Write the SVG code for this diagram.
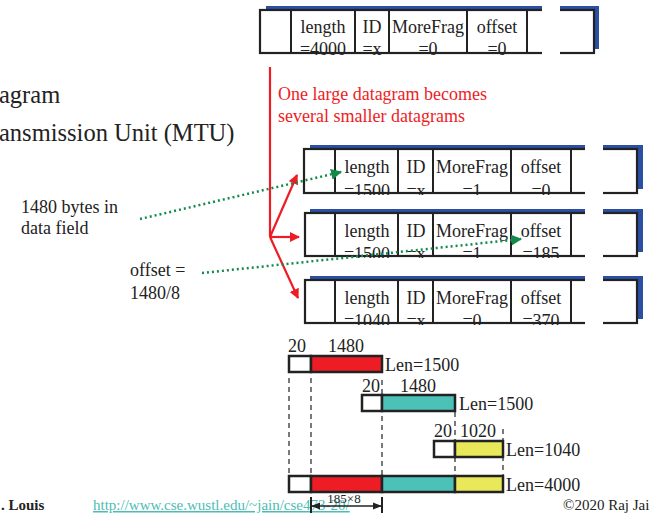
<svg xmlns="http://www.w3.org/2000/svg" width="649" height="515" viewBox="0 0 649 515">
  <style>
    text { font-family: "Liberation Serif", "Times New Roman", serif; fill: #222; }
    .f18 { font-size: 18px; }
    .hdr text { font-size: 18px; text-anchor: middle; }
    .shadow { fill: #2b4fa3; }
    .box { fill: #fff; stroke: #222; stroke-width: 2.2; }
    .div { stroke: #222; stroke-width: 2; }
    .gap { fill: #fff; }
    .red { stroke: #ee1c24; stroke-width: 2.2; fill: none; }
    .green { stroke: #138a4c; stroke-width: 2.5; stroke-dasharray: 2 3; fill: none; }
    .seg { stroke: #222; stroke-width: 2.5; }
    .dash { stroke: #222; stroke-width: 1.2; stroke-dasharray: 5 4; fill: none; }
    .redtxt { fill: #ee1c24; font-size: 18px; }
  </style>
  <defs>
    <marker id="redHead" viewBox="0 0 10 10" refX="9" refY="5" markerWidth="10" markerHeight="10" markerUnits="userSpaceOnUse" orient="auto">
      <path d="M0,0 L10,5 L0,10 z" fill="#ee1c24"/>
    </marker>
    <marker id="greenHead" viewBox="0 0 10 10" refX="9" refY="5" markerWidth="11" markerHeight="11" markerUnits="userSpaceOnUse" orient="auto">
      <path d="M0,0 L10,5 L0,10 z" fill="#138a4c"/>
    </marker>
    <marker id="dimHead" viewBox="0 0 10 10" refX="9" refY="5" markerWidth="9" markerHeight="9" markerUnits="userSpaceOnUse" orient="auto-start-reverse">
      <path d="M0,1 L10,5 L0,9 z" fill="#222"/>
    </marker>
    <clipPath id="clipTop"><rect x="255" y="0" width="350" height="55"/></clipPath>
    <clipPath id="clipF1"><rect x="300" y="140" width="345" height="55"/></clipPath>
    <clipPath id="clipF2"><rect x="300" y="205" width="345" height="53"/></clipPath>
    <clipPath id="clipF3"><rect x="300" y="270" width="345" height="55"/></clipPath>
  </defs>

  <!-- side titles -->
  <text x="-1" y="103" style="font-size:24.5px">agram</text>
  <text x="-1" y="141" style="font-size:24.5px">ansmission Unit (MTU)</text>

  <!-- original datagram header -->
  <g id="orig">
    <rect class="shadow" x="266" y="6" width="333" height="43"/>
    <rect class="box" x="260" y="10" width="334" height="43"/>
    <line class="div" x1="291" y1="10" x2="291" y2="53"/>
    <line class="div" x1="355" y1="10" x2="355" y2="53"/>
    <line class="div" x1="389" y1="10" x2="389" y2="53"/>
    <line class="div" x1="467" y1="10" x2="467" y2="53"/>
    <line class="div" x1="527" y1="10" x2="527" y2="53"/>
    <g class="hdr" clip-path="url(#clipTop)">
      <text x="323" y="33">length</text><text x="323" y="55">=4000</text>
      <text x="372" y="33">ID</text><text x="372" y="55">=x</text>
      <text x="428" y="33">MoreFrag</text><text x="428" y="55">=0</text>
      <text x="497" y="33">offset</text><text x="497" y="55">=0</text>
    </g>
    <rect class="gap" x="542" y="4" width="18" height="52"/>
  </g>

  <text class="redtxt" x="278" y="100">One large datagram becomes</text>
  <text class="redtxt" x="278" y="122">several smaller datagrams</text>

  <!-- fragment 1 -->
  <g id="frag1">
    <rect class="shadow" x="310" y="145" width="333" height="44"/>
    <rect class="box" x="304" y="149" width="333" height="44"/>
    <line class="div" x1="335" y1="149" x2="335" y2="193"/>
    <line class="div" x1="398" y1="149" x2="398" y2="193"/>
    <line class="div" x1="433" y1="149" x2="433" y2="193"/>
    <line class="div" x1="511" y1="149" x2="511" y2="193"/>
    <line class="div" x1="571" y1="149" x2="571" y2="193"/>
    <g class="hdr" clip-path="url(#clipF1)">
      <text x="367" y="173">length</text><text x="367" y="197">=1500</text>
      <text x="416" y="173">ID</text><text x="416" y="197">=x</text>
      <text x="472" y="173">MoreFrag</text><text x="472" y="197">=1</text>
      <text x="541" y="173">offset</text><text x="541" y="197">=0</text>
    </g>
    <rect class="gap" x="585" y="142" width="18" height="54"/>
  </g>

  <!-- fragment 2 -->
  <g id="frag2">
    <rect class="shadow" x="310" y="209" width="333" height="43"/>
    <rect class="box" x="305" y="213" width="332" height="43"/>
    <line class="div" x1="335" y1="213" x2="335" y2="256"/>
    <line class="div" x1="398" y1="213" x2="398" y2="256"/>
    <line class="div" x1="433" y1="213" x2="433" y2="256"/>
    <line class="div" x1="511" y1="213" x2="511" y2="256"/>
    <line class="div" x1="571" y1="213" x2="571" y2="256"/>
    <g class="hdr" clip-path="url(#clipF2)">
      <text x="367" y="237">length</text><text x="367" y="260">=1500</text>
      <text x="416" y="237">ID</text><text x="416" y="260">=x</text>
      <text x="472" y="237">MoreFrag</text><text x="472" y="260">=1</text>
      <text x="541" y="237">offset</text><text x="541" y="260">=185</text>
    </g>
    <rect class="gap" x="585" y="206" width="18" height="53"/>
  </g>

  <!-- fragment 3 -->
  <g id="frag3">
    <rect class="shadow" x="310" y="276" width="333" height="43"/>
    <rect class="box" x="305" y="280" width="332" height="43"/>
    <line class="div" x1="335" y1="280" x2="335" y2="323"/>
    <line class="div" x1="398" y1="280" x2="398" y2="323"/>
    <line class="div" x1="433" y1="280" x2="433" y2="323"/>
    <line class="div" x1="511" y1="280" x2="511" y2="323"/>
    <line class="div" x1="571" y1="280" x2="571" y2="323"/>
    <g class="hdr" clip-path="url(#clipF3)">
      <text x="367" y="304">length</text><text x="367" y="327">=1040</text>
      <text x="416" y="304">ID</text><text x="416" y="327">=x</text>
      <text x="472" y="304">MoreFrag</text><text x="472" y="327">=0</text>
      <text x="541" y="304">offset</text><text x="541" y="327">=370</text>
    </g>
    <rect class="gap" x="585" y="273" width="18" height="53"/>
  </g>

  <!-- notes -->
  <text class="f18" x="21" y="213">1480 bytes in</text>
  <text class="f18" x="21" y="234">data field</text>
  <text class="f18" x="130" y="276">offset =</text>
  <text class="f18" x="130" y="299">1480/8</text>

  <!-- connectors -->
  <g id="connectors">
    <line class="red" x1="270" y1="67" x2="270" y2="237"/>
    <line class="red" x1="270" y1="237" x2="297" y2="175" marker-end="url(#redHead)"/>
    <line class="red" x1="270" y1="237" x2="299" y2="237" marker-end="url(#redHead)"/>
    <line class="red" x1="270" y1="237" x2="298" y2="298" marker-end="url(#redHead)"/>
    <line class="green" x1="140" y1="219" x2="341" y2="172" marker-end="url(#greenHead)"/>
    <line class="green" x1="202" y1="273" x2="521" y2="239" marker-end="url(#greenHead)"/>
  </g>

  <!-- length bars -->
  <g id="bars">
    <line class="dash" x1="289" y1="378" x2="289" y2="476"/>
    <line class="dash" x1="311" y1="378" x2="311" y2="476"/>
    <line class="dash" x1="382" y1="380" x2="382" y2="476"/>
    <line class="dash" x1="455" y1="412" x2="455" y2="476"/>
    <line class="dash" x1="503" y1="429" x2="503" y2="476"/>

    <g id="bar1">
      <rect class="seg" x="289" y="356" width="22" height="16" fill="#fff"/>
      <rect class="seg" x="311" y="356" width="71" height="16" fill="#ee1c24"/>
      <text class="f18" x="288" y="352">20</text>
      <text class="f18" x="328" y="352">1480</text>
      <text class="f18" x="385" y="371">Len=1500</text>
    </g>
    <g id="bar2">
      <rect class="seg" x="362" y="395" width="20" height="16" fill="#fff"/>
      <rect class="seg" x="382" y="395" width="73" height="16" fill="#4cc1b8"/>
      <text class="f18" x="362" y="392">20</text>
      <text class="f18" x="400" y="392">1480</text>
      <text class="f18" x="459" y="410">Len=1500</text>
    </g>
    <g id="bar3">
      <rect class="seg" x="434" y="441" width="21" height="16" fill="#fff"/>
      <rect class="seg" x="455" y="441" width="48" height="16" fill="#e8e85a"/>
      <text class="f18" x="434" y="437">20</text>
      <text class="f18" x="460" y="437">1020</text>
      <text class="f18" x="506" y="456">Len=1040</text>
    </g>
    <g id="bar4">
      <rect class="seg" x="289" y="476" width="22" height="16" fill="#fff"/>
      <rect class="seg" x="311" y="476" width="71" height="16" fill="#ee1c24"/>
      <rect class="seg" x="382" y="476" width="73" height="16" fill="#4cc1b8"/>
      <rect class="seg" x="455" y="476" width="48" height="16" fill="#e8e85a"/>
      <text class="f18" x="506" y="491">Len=4000</text>
    </g>
  </g>

  <!-- footer -->
  <text x="1" y="510" style="font-size:15px;font-weight:bold">. Louis</text>
  <text x="93" y="510" style="font-size:15px;fill:#4cbdb4;text-decoration:underline">http://www.cse.wustl.edu/~jain/cse473-20/</text>
  <text x="563" y="510" style="font-size:15px">©2020 Raj Jai</text>

  <!-- dimension -->
  <g id="dim">
    <line x1="311" y1="497" x2="311" y2="513" stroke="#222" stroke-width="2"/>
    <line x1="382" y1="497" x2="382" y2="513" stroke="#222" stroke-width="2"/>
    <line x1="312" y1="506" x2="381" y2="506" stroke="#222" stroke-width="1.3" marker-start="url(#dimHead)" marker-end="url(#dimHead)"/>
    <text x="344" y="503" style="font-size:13px;text-anchor:middle">185×8</text>
  </g>
</svg>
